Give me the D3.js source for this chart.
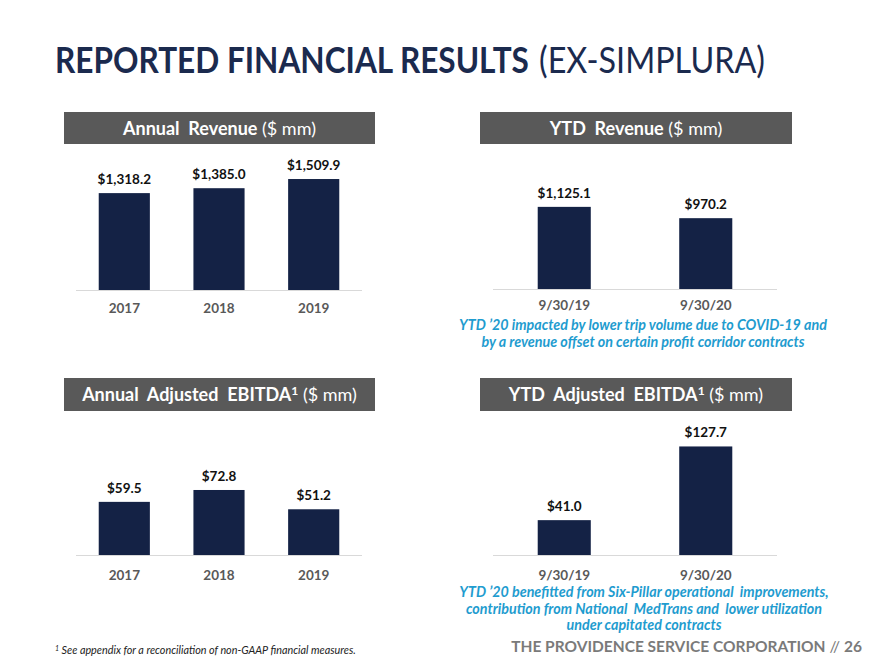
<!DOCTYPE html>
<html>
<head>
<meta charset="utf-8">
<script src="https://cdn.jsdelivr.net/npm/d3@7"></script>
<style>
  html, body { margin: 0; padding: 0; background: #ffffff; }
  svg { display: block; }
</style>
</head>
<body>
<svg id="chart" width="890" height="668"></svg>
<script>
// ---- data ----
const annualYears = ["2017", "2018", "2019"];
const annualRevenue = [1318.2, 1385.0, 1509.9];
const annualEbitda = [59.5, 72.8, 51.2];
const ytdPeriods = ["9/30/19", "9/30/20"];
const ytdRevenue = [1125.1, 970.2];
const ytdEbitda = [41.0, 127.7];
const revenueLabels = ["$1,318.2", "$1,385.0", "$1,509.9"];
const ebitdaLabels = ["$59.5", "$72.8", "$51.2"];
const ytdRevenueLabels = ["$1,125.1", "$970.2"];
const ytdEbitdaLabels = ["$41.0", "$127.7"];
const ytdRevenueNote = ["YTD \u201920 impacted by lower trip volume due to COVID-19 and",
                        "by a revenue offset on certain profit corridor contracts"];
const ytdEbitdaNote = ["YTD \u201920 benefitted from Six-Pillar operational  improvements,",
                       "contribution from National  MedTrans and  lower utilization",
                       "under capitated contracts"];

const FONT = "Lato, 'Open Sans', sans-serif";
const NAVY = "#142245";
const HEAD_GRAY = "#595959";
const NOTE = "#1f9ccf";

const svg = d3.select("#chart");

// Title: two runs, horizontally scaled to the reference widths
function fittedText(x, y, width, weight, str) {
  const t = svg.append("text")
    .attr("x", 0).attr("y", 0)
    .attr("font-family", FONT).attr("font-size", 36).attr("font-weight", weight)
    .attr("fill", "#1b2a4e")
    .text(str);
  const w = t.node().getComputedTextLength();
  t.attr("transform", `translate(${x},${y}) scale(${width / w},1)`);
}
fittedText(55, 73, 474, 700, "REPORTED FINANCIAL RESULTS");
fittedText(539, 73, 226, 400, "(EX-SIMPLURA)");

function header(x0, x1, y0, y1, boldText, superscript) {
  svg.append("rect").attr("x", x0).attr("y", y0)
    .attr("width", x1 - x0).attr("height", y1 - y0).attr("fill", HEAD_GRAY);
  const t = svg.append("text")
    .attr("x", (x0 + x1) / 2).attr("y", (y0 + y1) / 2 + 6.5)
    .attr("text-anchor", "middle")
    .attr("font-family", FONT).attr("font-size", 18).attr("fill", "#ffffff")
    .attr("xml:space", "preserve");
  t.append("tspan").attr("font-weight", 700).text(boldText);
  if (superscript) {
    t.append("tspan").attr("font-weight", 700).attr("font-size", 12).attr("dy", -6).text("1");
    t.append("tspan").attr("font-weight", 400).attr("dy", 6).text(" ($ mm)");
  } else {
    t.append("tspan").attr("font-weight", 400).text(" ($ mm)");
  }
}

function barChart(cfg) {
  const x = d3.scaleBand().domain(cfg.cats)
    .range([cfg.x0, cfg.x1]).paddingInner(cfg.pi).paddingOuter(cfg.po);
  const y = d3.scaleLinear().domain([0, cfg.max])
    .range([cfg.base, cfg.base - cfg.h]);
  const g = svg.append("g");
  const axis = d3.axisBottom(x).tickSize(0).tickPadding(0);
  const ax = g.append("g").attr("transform", `translate(0,${cfg.base})`).call(axis);
  ax.select(".domain").attr("stroke", "#d9d9d9").attr("stroke-width", 1.2)
    .attr("d", `M${cfg.x0},0.5H${cfg.x1}`);
  ax.selectAll(".tick text")
    .attr("y", cfg.labelDy).attr("dy", 0)
    .attr("font-family", FONT).attr("font-size", 13.5).attr("font-weight", 700)
    .attr("fill", "#595959");
  g.selectAll("rect.bar").data(cfg.vals).join("rect")
    .attr("class", "bar")
    .attr("x", (d, i) => x(cfg.cats[i]))
    .attr("width", x.bandwidth())
    .attr("y", d => y(d))
    .attr("height", d => y(0) - y(d))
    .attr("fill", NAVY);
  g.selectAll("text.val").data(cfg.vals).join("text")
    .attr("class", "val")
    .attr("x", (d, i) => x(cfg.cats[i]) + x.bandwidth() / 2)
    .attr("y", d => y(d) - 9)
    .attr("text-anchor", "middle")
    .attr("font-family", FONT).attr("font-size", 13.5).attr("font-weight", 700)
    .attr("fill", "#111111")
    .text((d, i) => cfg.labels[i]);
}

// Panels
header(64, 375, 112, 144, "Annual  Revenue", false);
header(480, 792, 112, 144, "YTD  Revenue", false);
header(64, 375, 378, 411, "Annual  Adjusted  EBITDA", true);
header(480, 792, 378, 411, "YTD  Adjusted  EBITDA", true);

barChart({cats: annualYears, vals: annualRevenue, labels: revenueLabels,
  x0: 76, x1: 362, pi: 0.46, po: 0.24, base: 290, max: 2000, h: 147, labelDy: 23});
barChart({cats: ytdPeriods, vals: ytdRevenue, labels: ytdRevenueLabels,
  x0: 493, x1: 777, pi: 0.625, po: 0.316, base: 289, max: 2000, h: 146, labelDy: 21});
barChart({cats: annualYears, vals: annualEbitda, labels: ebitdaLabels,
  x0: 76, x1: 362, pi: 0.46, po: 0.24, base: 555, max: 100, h: 89.3, labelDy: 25});
barChart({cats: ytdPeriods, vals: ytdEbitda, labels: ytdEbitdaLabels,
  x0: 493, x1: 777, pi: 0.625, po: 0.316, base: 555, max: 150, h: 127.5, labelDy: 25});

// Notes
function note(lines, cx, y0, lh) {
  svg.append("g").selectAll("text").data(lines).join("text")
    .attr("x", cx).attr("y", (d, i) => y0 + i * lh)
    .attr("text-anchor", "middle")
    .attr("font-family", FONT).attr("font-size", 14.3).attr("font-weight", 700)
    .attr("font-style", "italic").attr("fill", NOTE)
    .attr("xml:space", "preserve")
    .text(d => d);
}
note(ytdRevenueNote, 643, 330, 16.5);
note(ytdEbitdaNote, 644, 597, 16.5);

// Footnote
const fn = svg.append("text").attr("x", 55).attr("y", 654)
  .attr("font-family", FONT).attr("font-size", 10.8).attr("font-style", "italic")
  .attr("fill", "#222222");
fn.append("tspan").attr("font-size", 7).attr("dy", -3).text("1");
fn.append("tspan").attr("dy", 3).text(" See appendix for a reconciliation of non-GAAP financial measures.");

// Footer
const ft = svg.append("text").attr("x", 862).attr("y", 652)
  .attr("text-anchor", "end")
  .attr("font-family", FONT).attr("font-size", 15.5).attr("fill", "#7a7a7a");
ft.append("tspan").attr("font-weight", 700).text("THE PROVIDENCE SERVICE CORPORATION");
ft.append("tspan").attr("font-weight", 400).text(" // ");
ft.append("tspan").attr("font-weight", 700).text("26");
</script>
</body>
</html>
